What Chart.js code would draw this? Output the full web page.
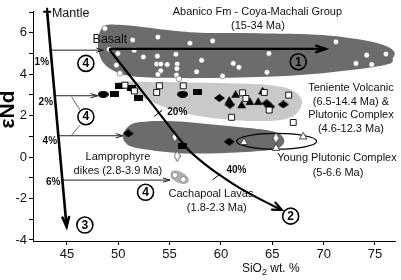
<!DOCTYPE html>
<html><head><meta charset="utf-8">
<script src="https://cdn.jsdelivr.net/npm/chart.js@4/dist/chart.umd.min.js"></script>
<style>html,body{margin:0;padding:0;background:#fff}</style>
</head><body>
<canvas id="c" width="401" height="280"></canvas>
<script>
// ---------- data (x = SiO2 wt.%, y = eNd) ----------
const xTicks = [45, 50, 55, 60, 65, 70, 75];
const yTickValues = [-4, -3, -2, -1, 0, 1, 2, 3, 4, 5, 6, 7];
const yTickLabels = ['-4', '', '-2', '', '0', '', '2', '', '4', '', '6', ''];

const abanicoField = [[48.51,6.27],[50.45,6.37],[56.98,6.03],[63.51,5.98],[69.93,5.89],[74.80,5.55],[76.75,5.16],[76.75,4.78],[75.97,4.44],[69.93,4.05],[63.51,3.86],[56.98,3.81],[52.11,3.86],[49.87,4.10],[48.51,4.58],[48.02,5.41]];
const tenienteField = [[49.97,3.62],[54.06,3.62],[59.90,3.57],[64.77,3.47],[66.92,3.23],[67.89,2.75],[67.50,2.17],[66.23,1.83],[62.82,1.74],[58.44,1.93],[55.03,2.32],[52.60,2.80],[50.65,3.28]];
const lowerField = [[50.45,0.97],[50.94,1.45],[52.11,1.69],[55.03,1.74],[58.93,1.59],[62.82,1.40],[65.26,1.21],[66.14,0.87],[65.75,0.48],[63.80,0.29],[59.90,0.19],[56.00,0.19],[53.08,0.34],[51.14,0.53]];
const cachapoalField = [[55.23,-0.68],[56.01,-0.68],[56.69,-0.92],[56.88,-1.16],[56.49,-1.30],[55.71,-1.21],[55.13,-0.97]];
const youngEllipse = {cx: 65.42, cy: 0.76, rx: 3.90, ry: 0.38};

const abanicoPts = [[48.70,6.21],[51.40,5.65],[49.12,5.20],[49.97,5.00],[51.56,5.16],[53.86,5.79],[56.98,5.49],[59.19,5.61],[52.45,4.83],[53.81,4.87],[55.62,4.96],[53.74,4.49],[54.14,4.49],[54.77,4.47],[55.74,4.49],[55.71,4.27],[54.13,4.17],[53.86,3.99],[55.67,3.96],[55.91,3.78],[49.82,4.44],[50.16,4.04],[57.63,4.12],[58.12,4.67],[60.16,3.91],[61.20,4.52],[61.75,4.33],[64.67,5.00],[64.48,4.09],[71.20,5.56],[74.19,4.92],[76.07,4.97],[73.15,4.52],[74.68,4.47]];
const tenienteSquares = [[50.65,3.47],[51.57,3.19],[54.01,3.44],[53.74,3.12],[56.33,3.44],[62.11,3.10],[62.43,2.83],[64.22,3.12],[66.60,2.99],[64.70,2.27],[61.04,1.92],[67.04,1.67]];
const blackRects = [[50.09,3.44],[51.30,3.34],[51.94,2.87],[49.68,3.03],[57.69,3.12],[56.25,0.53]];
const blackOvals = [[48.54,3.03],[56.27,3.03]];
const blackTriangles = [[61.43,2.99],[64.06,3.15],[62.02,2.48],[62.82,2.64],[63.63,2.64],[60.81,2.70]];
const blackDiamonds = [[59.85,2.85],[60.88,2.53],[64.45,2.59],[64.77,2.44],[66.07,2.54],[50.97,1.14],[60.81,0.74]];
const lamprophyreDiamonds = [[55.52,0.98],[55.74,0.05]];
const youngTriangles = [[62.24,0.71],[68.01,0.98],[65.36,0.43]];
const youngDiamonds = [[65.36,0.92]];
const cachapoalPts = [[55.52,-0.87],[56.33,-1.08]];

const mantleLine = [[43.08,7.01],[44.97,-3.36]];
const trend1 = [[49.12,5.22],[70.2,5.22]];
const trend2 = [[49.12,5.20],[53.0,2.75],[56.69,0.43],[58.44,-0.34],[59.90,-0.87],[61.85,-1.50],[63.80,-2.03],[65.94,-2.56]];
const mix1 = [[43.45,5.16],[48.55,5.16]];
const mix2 = [[43.80,2.96],[48.0,2.96]];
const mix4 = [[44.15,1.03],[50.45,1.03]];
const mix6 = [[44.50,-1.11],[55.03,-1.11]];
const leaderA = [[45.46,2.91],[46.27,2.27]];
const leaderB = [[46.27,1.54],[45.46,1.06]];

const textLabels = [
  {t:'Mantle', x:43.54, y:6.93, a:'left', s:12.5},
  {t:'Abanico Fm - Coya-Machali Group', x:63.55, y:7.0},
  {t:'(15-34 Ma)', x:63.6, y:6.32},
  {t:'Basalt', x:49.19, y:5.65, s:12.5},
  {t:'Teniente Volcanic', x:72.66, y:3.33},
  {t:'(6.5-14.4 Ma) &', x:72.66, y:2.68},
  {t:'Plutonic Complex', x:72.66, y:2.03},
  {t:'(4.6-12.3 Ma)', x:72.66, y:1.38},
  {t:'Young Plutonic Complex', x:71.3, y:-0.05},
  {t:'(5-6.6 Ma)', x:71.4, y:-0.77},
  {t:'Lamprophyre', x:49.97, y:0.0},
  {t:'dikes (2.8-3.9 Ma)', x:49.97, y:-0.68},
  {t:'Cachapoal Lavas', x:59.03, y:-1.79},
  {t:'(1.8-2.3 Ma)', x:59.6, y:-2.46}
];
const pctLabels = [
  {t:'1%', x:42.56, y:4.6}, {t:'2%', x:42.95, y:2.67}, {t:'4%', x:43.34, y:0.74}, {t:'6%', x:43.67, y:-1.23},
  {t:'20%', x:55.75, y:2.15}, {t:'40%', x:61.51, y:-0.63}
];
const circled = [
  {n:'1', x:67.53, y:4.60}, {n:'2', x:66.79, y:-2.85}, {n:'3', x:46.75, y:-3.28},
  {n:'4', x:46.85, y:4.52}, {n:'4', x:46.85, y:1.95}, {n:'4', x:52.66, y:-1.70}
];
const curveTicks = [[53.89,2.11],[59.58,-0.95]];

// ---------- styles ----------
const DARK = '#6c6c6c', LIGHT = '#c9c9c9', MID = '#b0b0b0';
const FONT = '"Liberation Sans", Arial, sans-serif';

function mk(w, h, draw) { const c = document.createElement('canvas'); c.width = w; c.height = h; draw(c.getContext('2d'), w, h); return c; }
const rectImg = mk(9, 6, (g, w, h) => { g.fillStyle = '#000'; g.fillRect(0, 0, w, h); });
const ovalImg = mk(11, 7, (g, w, h) => { g.fillStyle = '#000'; g.beginPath(); g.ellipse(w/2, h/2, w/2, h/2, 0, 0, 7); g.fill(); });
const diaImg = mk(11, 8, (g, w, h) => { g.fillStyle = '#000'; g.beginPath(); g.moveTo(w/2, 0); g.lineTo(w, h/2); g.lineTo(w/2, h); g.lineTo(0, h/2); g.closePath(); g.fill(); });
const wDiaImg = mk(7, 12, (g, w, h) => { g.fillStyle = '#fff'; g.strokeStyle = '#333'; g.lineWidth = 0.8; g.beginPath(); g.moveTo(w/2, 0.5); g.lineTo(w-0.5, h/2); g.lineTo(w/2, h-0.5); g.lineTo(0.5, h/2); g.closePath(); g.fill(); g.stroke(); });

const xy = a => a.map(([x, y]) => ({x, y}));
const ptDs = (data, extra) => Object.assign({type:'scatter', data: xy(data), showLine:false, order:2}, extra);
const lnDs = (data, w, color, tension) => ({type:'scatter', data: xy(data), showLine:true, borderColor:color, borderWidth:w, pointRadius:0, tension: tension || 0, fill:false, order:1});

function smoothClosed(ctx, pts) {
  const n = pts.length;
  ctx.beginPath();
  ctx.moveTo(pts[0][0], pts[0][1]);
  for (let i = 0; i < n; i++) {
    const p0 = pts[(i - 1 + n) % n], p1 = pts[i], p2 = pts[(i + 1) % n], p3 = pts[(i + 2) % n];
    ctx.bezierCurveTo(p1[0] + (p2[0] - p0[0]) / 6, p1[1] + (p2[1] - p0[1]) / 6,
                      p2[0] - (p3[0] - p1[0]) / 6, p2[1] - (p3[1] - p1[1]) / 6, p2[0], p2[1]);
  }
  ctx.closePath();
}
function arrowHead(ctx, from, to, len, ang, lw) {
  const a = Math.atan2(to[1] - from[1], to[0] - from[0]);
  ctx.save(); ctx.lineWidth = lw; ctx.lineCap = 'round'; ctx.lineJoin = 'miter';
  ctx.beginPath();
  ctx.moveTo(to[0] - len * Math.cos(a - ang), to[1] - len * Math.sin(a - ang));
  ctx.lineTo(to[0], to[1]);
  ctx.lineTo(to[0] - len * Math.cos(a + ang), to[1] - len * Math.sin(a + ang));
  ctx.stroke(); ctx.restore();
}

const geoPlugin = {
  id: 'geo',
  beforeDatasetsDraw(chart) {
    const ctx = chart.ctx, xs = chart.scales.x, ys = chart.scales.y;
    const P = p => [xs.getPixelForValue(p[0]), ys.getPixelForValue(p[1])];
    ctx.save();
    [[abanicoField, DARK], [tenienteField, LIGHT], [lowerField, DARK], [cachapoalField, MID]].forEach(([f, c]) => {
      smoothClosed(ctx, f.map(P)); ctx.fillStyle = c; ctx.fill();
    });
    const c = P([youngEllipse.cx, youngEllipse.cy]);
    const rx = Math.abs(xs.getPixelForValue(youngEllipse.cx + youngEllipse.rx) - c[0]);
    const ry = Math.abs(ys.getPixelForValue(youngEllipse.cy + youngEllipse.ry) - c[1]);
    ctx.beginPath(); ctx.ellipse(c[0], c[1], rx, ry, 0, 0, Math.PI * 2);
    ctx.strokeStyle = '#000'; ctx.lineWidth = 1.2; ctx.stroke();
    ctx.restore();
  },
  afterDatasetsDraw(chart) {
    const ctx = chart.ctx, xs = chart.scales.x, ys = chart.scales.y;
    const P = p => [xs.getPixelForValue(p[0]), ys.getPixelForValue(p[1])];
    ctx.save();
    ctx.strokeStyle = '#000';
    const ah = (line, len, ang, lw, col) => { ctx.strokeStyle = col; const n = line.length; arrowHead(ctx, P(line[n - 2]), P(line[n - 1]), len, ang, lw); };
    ah(mantleLine, 10, 0.33, 2.6, '#000');
    ah(trend1, 10, 0.33, 2.4, '#000');
    ah([[63.3,-1.92], trend2[trend2.length - 1]], 10, 0.4, 2.2, '#000');
    [mix1, mix2, mix4, mix6].forEach(l => ah(l, 7, 0.3, 1, '#222'));
    ctx.strokeStyle = '#000'; ctx.lineWidth = 1;
    curveTicks.forEach(t => {
      const p = P(t); ctx.beginPath(); ctx.moveTo(p[0] - 4, p[1] + 3); ctx.lineTo(p[0] + 4, p[1] - 3); ctx.stroke();
    });
    const m = P(mantleLine[0]);
    ctx.lineWidth = 2; ctx.beginPath(); ctx.moveTo(m[0] - 4, m[1]); ctx.lineTo(m[0] + 4, m[1]); ctx.moveTo(m[0], m[1] - 4); ctx.lineTo(m[0], m[1] + 4); ctx.stroke();
    ctx.textAlign = 'center'; ctx.textBaseline = 'middle';
    circled.forEach(c => {
      const p = P([c.x, c.y]);
      ctx.lineWidth = 1.6; ctx.strokeStyle = '#000';
      ctx.beginPath(); ctx.arc(p[0], p[1], 8, 0, Math.PI * 2); ctx.stroke();
      ctx.fillStyle = '#000'; ctx.font = 'bold 12px ' + FONT; ctx.fillText(c.n, p[0], p[1] + 0.5);
    });
    ctx.fillStyle = '#111';
    textLabels.forEach(l => { const p = P([l.x, l.y]); ctx.font = (l.s || 11) + 'px ' + FONT; ctx.textAlign = l.a || 'center'; ctx.fillText(l.t, p[0], p[1]); });
    ctx.font = 'bold 10px ' + FONT; ctx.textAlign = 'center';
    pctLabels.forEach(l => { const p = P([l.x, l.y]); ctx.fillText(l.t, p[0], p[1]); });
    const bx = xs.getPixelForValue(62.04), by = chart.chartArea.bottom + 31;
    ctx.textAlign = 'left'; ctx.textBaseline = 'alphabetic'; ctx.fillStyle = '#111';
    ctx.font = '12px ' + FONT; ctx.fillText('SiO', bx, by);
    let w = ctx.measureText('SiO').width;
    ctx.font = '9px ' + FONT; ctx.fillText('2', bx + w, by + 3);
    w += ctx.measureText('2').width;
    ctx.font = '12px ' + FONT; ctx.fillText(' wt. %', bx + w, by);
    ctx.save(); ctx.translate(14, ys.getPixelForValue(2.3)); ctx.rotate(-Math.PI / 2);
    ctx.font = 'bold 21px ' + FONT; ctx.textAlign = 'center'; ctx.fillStyle = '#000';
    ctx.fillText('εNd', 0, 0); ctx.restore();
    ctx.restore();
  }
};

new Chart(document.getElementById('c'), {
  type: 'scatter',
  data: {
    datasets: [
      lnDs(mantleLine, 2.6, '#000'),
      lnDs(trend1, 2.4, '#000'),
      lnDs(trend2, 2.2, '#000', 0.3),
      lnDs(mix1, 1, '#222'), lnDs(mix2, 1, '#222'), lnDs(mix4, 1, '#222'), lnDs(mix6, 1, '#222'),
      lnDs(leaderA, 0.8, '#444'), lnDs(leaderB, 0.8, '#444'),
      ptDs(abanicoPts, {pointStyle:'circle', pointRadius:2.8, backgroundColor:'#fff', borderColor:'#555', borderWidth:0.6}),
      ptDs(tenienteSquares, {pointStyle:'rect', pointRadius:4.2, backgroundColor:'#fff', borderColor:'#000', borderWidth:0.9}),
      ptDs(blackRects, {pointStyle: rectImg}),
      ptDs(blackOvals, {pointStyle: ovalImg}),
      ptDs(blackTriangles, {pointStyle:'triangle', pointRadius:4.6, backgroundColor:'#000', borderColor:'#000', borderWidth:0.5}),
      ptDs(blackDiamonds, {pointStyle: diaImg}),
      ptDs(lamprophyreDiamonds, {pointStyle: wDiaImg}),
      ptDs(youngTriangles, {pointStyle:'triangle', pointRadius:4.4, backgroundColor:'#fff', borderColor:'#333', borderWidth:0.9}),
      ptDs(youngDiamonds, {pointStyle: wDiaImg}),
      ptDs(cachapoalPts, {pointStyle:'circle', pointRadius:2.8, backgroundColor:'#fff', borderColor:'#555', borderWidth:0.6})
    ]
  },
  options: {
    responsive: false, animation: false, devicePixelRatio: 1,
    layout: {padding: {top: 11, right: 6, left: 0, bottom: 0}},
    plugins: {legend: {display: false}, tooltip: {enabled: false}},
    scales: {
      x: {
        type: 'linear', min: 41.7, max: 76.95,
        afterBuildTicks: s => { s.ticks = xTicks.map(v => ({value: v})); },
        afterFit: s => { s.height = 39; },
        grid: {display: true, drawOnChartArea: false, drawTicks: true, tickLength: 4, color: '#000', lineWidth: 1},
        border: {display: true, color: '#000', width: 1},
        ticks: {color: '#111', font: {family: FONT, size: 13}, padding: 2, maxRotation: 0, autoSkip: false, callback: v => String(v)}
      },
      y: {
        type: 'linear', min: -4.05, max: 7.05,
        afterBuildTicks: s => { s.ticks = yTickValues.map(v => ({value: v})); },
        afterFit: s => { s.width = 33; },
        grid: {display: true, drawOnChartArea: false, drawTicks: true, tickLength: 4, color: '#000', lineWidth: 1},
        border: {display: true, color: '#000', width: 1},
        ticks: {color: '#111', font: {family: FONT, size: 13}, padding: 2, autoSkip: false, callback: (v, i) => yTickLabels[i]}
      }
    }
  },
  plugins: [geoPlugin]
});
</script>
</body></html>
